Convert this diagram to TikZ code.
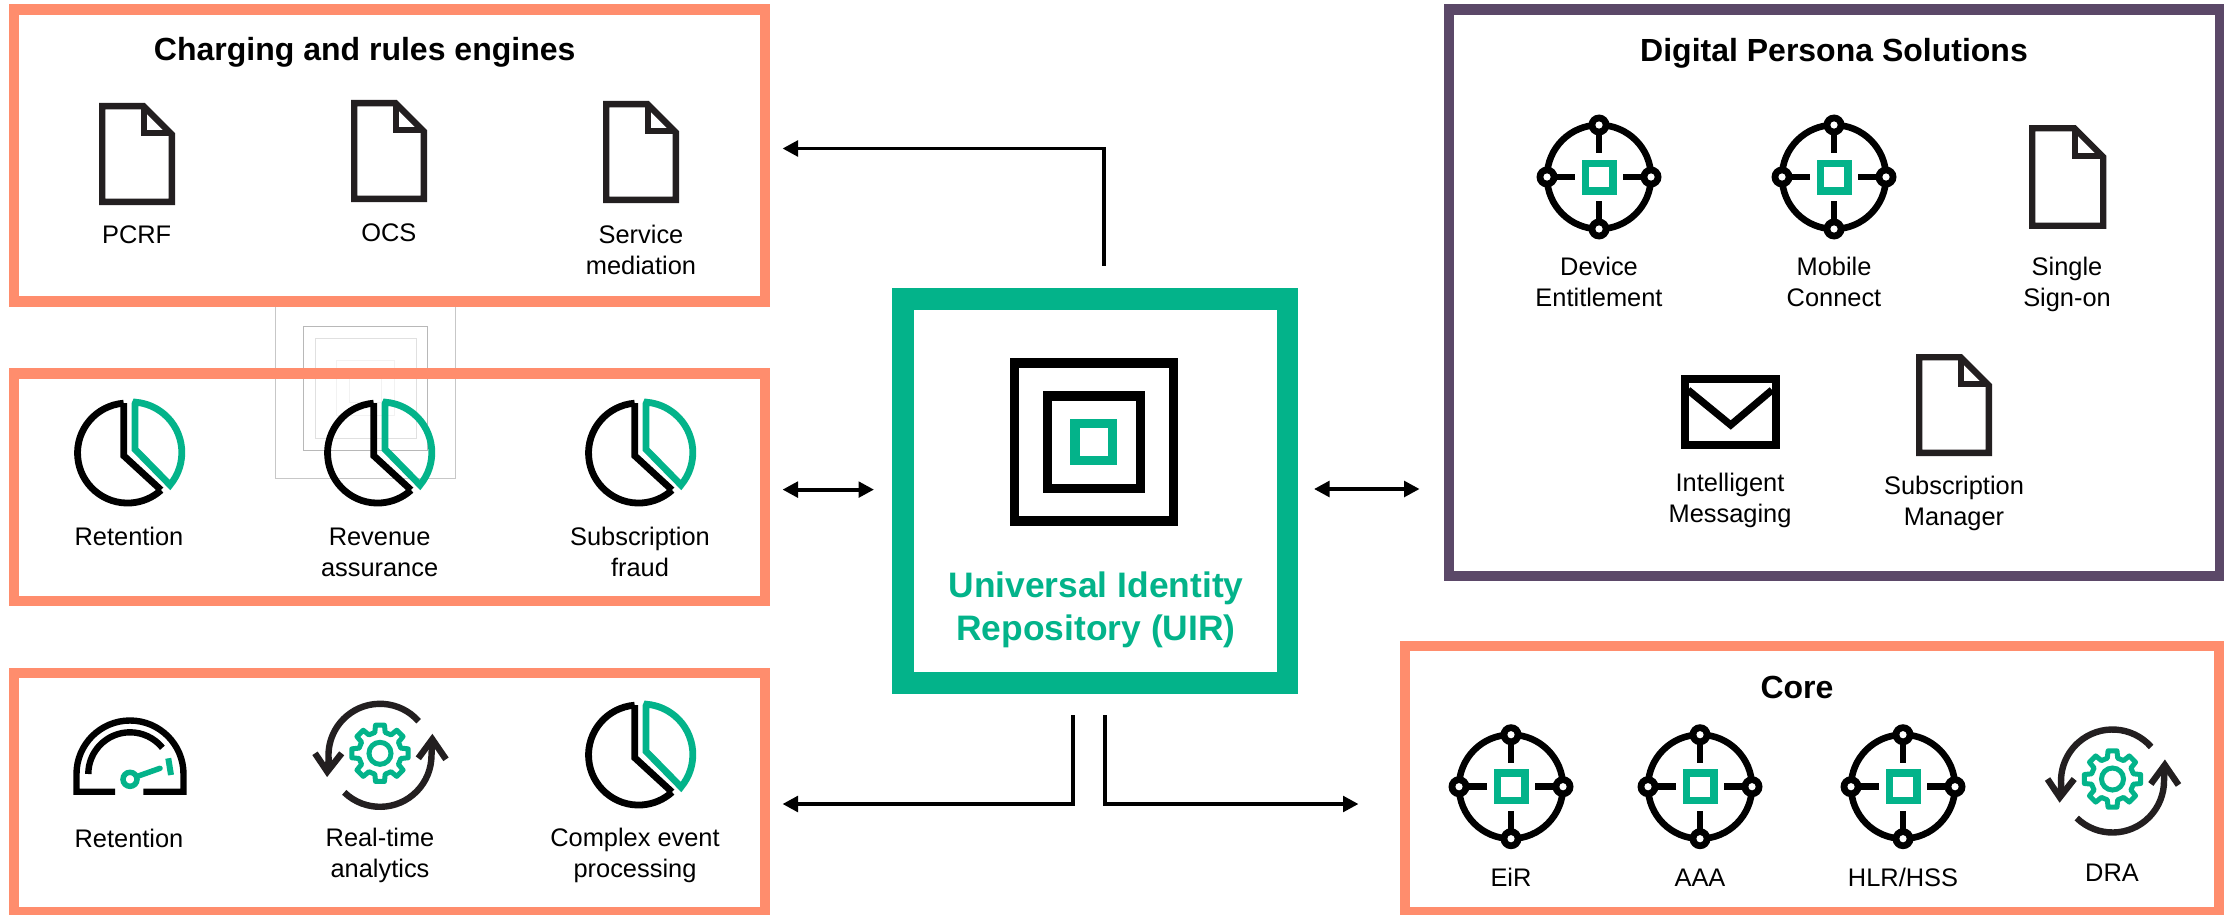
\documentclass[tikz,border=0pt]{standalone}
\usepackage{fontspec}
\setmainfont{Liberation Sans}
\usetikzlibrary{arrows.meta}
\definecolor{boxorange}{HTML}{FF8D6D}
\definecolor{boxpurple}{HTML}{5B4868}
\definecolor{hpegreen}{HTML}{03B38A}
\definecolor{icongray}{HTML}{231F20}
\tikzset{
  panel/.style={draw,line width=10.4pt,minimum width=#1,inner sep=0pt,outer sep=0pt},
  lab/.style={anchor=base,align=center,inner sep=0pt,font=\fontsize{25.4}{31}\selectfont,text=black},
  ttl/.style={anchor=base,align=center,inner sep=0pt,font=\fontsize{32}{40}\selectfont\bfseries,text=black},
  conn/.style={line width=3.8pt,draw=black,{Triangle[length=15.5pt,width=15.5pt]}-,line join=miter},
  conntwo/.style={line width=3.8pt,draw=black,{Triangle[length=15.5pt,width=15.5pt]}-{Triangle[length=15.5pt,width=15.5pt]}},
  ghost/.style={line width=1pt},
  docicon/.pic={
    \draw[icongray,line width=6.3pt,miter limit=10] (3.15,3.15) -- (44.5,3.15) -- (72.85,31.5) -- (72.85,98.85) -- (3.15,98.85) -- cycle;
    \draw[icongray,line width=6.3pt] (44.8,3.15) -- (44.8,30.3) -- (72.85,30.3);
  },
  pieicon/.pic={
    \draw[black,line width=6.8pt,line join=miter] (-3.8,-49.8) -- (-3.8,2.7) -- (33.5,37);
    \draw[black,line width=6.8pt] (-3.8,-49.8) arc[start angle=265.6,end angle=47.8,radius=50];
    \draw[hpegreen,line width=6.8pt,line join=miter] (7.5,-49) -- (7.5,-3.7) -- (42.5,32) arc[start angle=40,end angle=-85,radius=50.5] -- cycle;
  },
  neticon/.pic={
    \draw[black,line width=6.6pt] (0,0) circle[radius=52];
    \foreach \a in {0,90,180,270}{
      \draw[black,line width=6.8pt] (\a:52) -- (\a:24);
      \fill[black] (\a:52) circle[radius=10.5];
      \fill[white] (\a:52) circle[radius=3.6];
    }
    \draw[hpegreen,line width=7.5pt,line join=miter] (-13.75,-13.75) rectangle (13.75,13.75);
  },
  cycleicon/.pic={
    \draw[icongray,line width=6.4pt,line join=miter] (-41.4:51.5) arc[start angle=-41.4,end angle=-185,radius=51.5] -- (-52.7,16.3);
    \draw[icongray,line width=6.4pt,line join=miter] (-65,-2) -- (-52.7,16.3) -- (-38.3,-2);
    \draw[icongray,line width=6.4pt,line join=miter] (134:51.5) arc[start angle=134,end angle=0,radius=51.5] -- (52.3,-16);
    \draw[icongray,line width=6.4pt,line join=miter] (38.3,3) -- (52.3,-16) -- (66,4);
    \begin{scope}[shift={(0,-2)}]
      \draw[hpegreen,line width=5pt] (0,0) circle[radius=11];
      \draw[hpegreen,line width=5pt,line join=round] ({0-14}:21.5)
        \foreach \a in {0,45,...,315}{ -- ({\a-14}:21.5) -- ({\a-9}:28.5) -- ({\a+9}:28.5) -- ({\a+14}:21.5) } -- cycle;
    \end{scope}
  },
  gaugeicon/.pic={
    \draw[black,line width=6.4pt,line join=miter] (115,791.7) -- (76.5,791.7) -- (76.5,774) arc[start angle=180,end angle=360,radius=53.5] -- (183.5,791.7) -- (143.3,791.7);
    \draw[black,line width=6.4pt] (88.3,774) arc[start angle=180,end angle=321,radius=41.7];
    \draw[hpegreen,line width=5.5pt] (130,779.3) circle[radius=7];
    \draw[hpegreen,line width=5.5pt,line cap=round] (138.3,776) -- (160,768.3);
    \draw[hpegreen,line width=6pt] (168.3,758.3) -- (171,775);
  }
}
\begin{document}
\begin{tikzpicture}[x=1pt,y=-1pt]
\useasboundingbox (0,0) rectangle (2224,915);
\fill[white] (0,0) rectangle (2224,915);
% faint ghost squares behind the panels
\draw[ghost,draw=black!22] (275.5,295) rectangle (455.6,478);
\draw[ghost,draw=black!28] (303.6,326) rectangle (427.6,450.6);
\draw[ghost,draw=black!12] (315,338) rectangle (416,438);
\draw[ghost,draw=black!5] (336.7,360) rectangle (394,415);
\draw[ghost,draw=black!5] (349.5,373) rectangle (381,402);
% panels
\node[panel=751pt,draw=boxorange,fill=white,minimum height=291.8pt] (charging) at (389.5,155.6) {};
\node[panel=751pt,draw=boxorange,minimum height=227.5pt] (revenue) at (389.5,487.3) {};
\node[panel=751pt,draw=boxorange,fill=white,minimum height=239pt] (analytics) at (389.5,792.5) {};
\node[panel=771pt,draw=boxpurple,fill=white,minimum height=566.5pt] (persona) at (1834.5,292.8) {};
\node[panel=814pt,draw=boxorange,fill=white,minimum height=266pt] (core) at (1812,779) {};
\node[panel=384.5pt,draw=hpegreen,line width=21.5pt,fill=white,minimum height=384pt] (uir) at (1095.2,491) {};
% central icon
\draw[black,line width=9.5pt] (1014.5,363) rectangle (1173.5,521);
\draw[black,line width=9.5pt] (1047.3,395.8) rectangle (1140.7,488.5);
\draw[hpegreen,line width=9.5pt] (1075,423.4) rectangle (1112.5,460.5);
\node[anchor=base,align=center,inner sep=0pt,font=\fontsize{35.4}{43}\selectfont\bfseries,text=hpegreen] (uirtext) at (1096,640) {Universal Identity\\Repository (UIR)};
% titles
\node[ttl] (tcharging) at (364.7,61) {Charging and rules engines};
\node[ttl] (tpersona) at (1834,62) {Digital Persona Solutions};
\node[ttl] (tcore) at (1797,698.5) {Core};
% charging
\pic at (99,103) {docicon};
\pic at (351,100) {docicon};
\pic at (603,101) {docicon};
\node[lab] (pcrf) at (136.7,243) {PCRF};
\node[lab] (ocs) at (388.8,241) {OCS};
\node[lab] (svc) at (641,274) {Service\\mediation};
% revenue
\pic at (127.5,453) {pieicon};
\pic at (377.5,453) {pieicon};
\pic at (638.5,453) {pieicon};
\node[lab] (ret) at (129,545.5) {Retention};
\node[lab] (rev) at (379.6,576) {Revenue\\assurance};
\node[lab] (sub) at (640,576) {Subscription\\fraud};
% analytics
\pic at (0,0) {gaugeicon};
\pic at (380,755.3) {cycleicon};
\pic at (638.5,755) {pieicon};
\node[lab] (retb) at (129,847.5) {Retention};
\node[lab] (rta) at (380,877.5) {Real-time\\analytics};
\node[lab] (cep) at (635,877.5) {Complex event\\processing};
% persona
\pic at (1599,177) {neticon};
\pic at (1834,177) {neticon};
\pic[scale=1.02] at (2029,125) {docicon};
\pic at (1916,354) {docicon};
\draw[black,line width=7.6pt,line join=miter] (1684.7,378.7) rectangle (1776,444.7);
\draw[black,line width=7.2pt,line join=miter] (1688,390) -- (1730.7,425) -- (1772,390);
\node[lab] (dev) at (1599,306.5) {Device\\Entitlement};
\node[lab] (mob) at (1834,306.5) {Mobile\\Connect};
\node[lab] (sso) at (2067,306.5) {Single\\Sign-on};
\node[lab] (msg) at (1730,522) {Intelligent\\Messaging};
\node[lab] (mgr) at (1954,525.5) {Subscription\\Manager};
% core
\pic at (1511,786.7) {neticon};
\pic at (1700,786.7) {neticon};
\pic at (1903,786.7) {neticon};
\pic at (2112.5,781) {cycleicon};
\node[lab] (eir) at (1511,886) {EiR};
\node[lab] (aaa) at (1700,886) {AAA};
\node[lab] (hlr) at (1903,886) {HLR/HSS};
\node[lab] (dra) at (2112,881.7) {DRA};
% connectors
\coordinate (topstart) at (1104,266);
\coordinate (topend) at (782.5,148.5);
\coordinate (leftA) at (782.5,489.6);
\coordinate (leftB) at (874,489.6);
\coordinate (rightA) at (1314,489);
\coordinate (rightB) at (1419.6,489);
\coordinate (botlstart) at (1073,714.6);
\coordinate (botlend) at (782.5,804);
\coordinate (botrstart) at (1105,714.6);
\coordinate (botrend) at (1358.5,804);
\draw[conn] (topend) -| (topstart);
\draw[conntwo] (leftA) -- (leftB);
\draw[conntwo] (rightA) -- (rightB);
\draw[conn] (botlend) -| (botlstart);
\draw[conn] (botrend) -| (botrstart);
\end{tikzpicture}
\end{document}
